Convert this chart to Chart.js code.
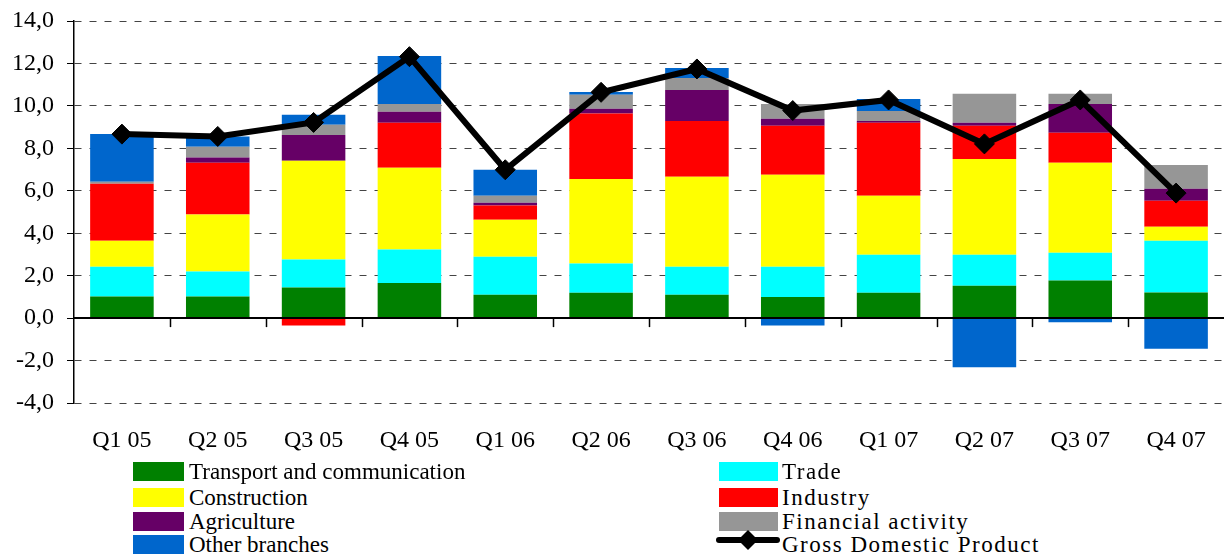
<!DOCTYPE html>
<html>
<head>
<meta charset="utf-8">
<script src="https://cdn.jsdelivr.net/npm/chart.js@4.4.1/dist/chart.umd.min.js"></script>
<style>
    html, body { margin: 0; padding: 0; background: #fff; overflow: hidden; }
    body { width: 1225px; height: 554px; position: relative; font-family: "Liberation Serif", Tinos, "Times New Roman", Times, "DejaVu Serif", serif; color: #000; }
    #wrap { position: absolute; left: 0; top: 0; width: 1235px; height: 460px; }
    .swatch { position: absolute; height: 19px; }
    .label { position: absolute; font-size: 23px; line-height: 19px; white-space: nowrap; }
    .label.right { letter-spacing: 1.5px; }
    #gdpKey { position: absolute; left: 715px; top: 529px; }
</style>
</head>
<body>
<div id="wrap"><canvas id="gdpChart" width="1235" height="460"></canvas></div>
<div id="legend"></div>
<svg id="gdpKey" width="66" height="22">
    <line x1="4" y1="11" x2="62" y2="11" stroke="#000" stroke-width="6" stroke-linecap="round"/>
    <polygon points="33,1 43,11 33,21 23,11" fill="#000"/>
</svg>
<script>
const quarters = ['Q1 05', 'Q2 05', 'Q3 05', 'Q4 05', 'Q1 06', 'Q2 06', 'Q3 06', 'Q4 06', 'Q1 07', 'Q2 07', 'Q3 07', 'Q4 07'];

// contributions to growth, percentage points
const transport    = [1.02, 1.02, 1.44, 1.66, 1.10, 1.19, 1.10, 1.00, 1.19, 1.52, 1.77, 1.21];
const trade        = [1.40, 1.18, 1.32, 1.57, 1.79, 1.38, 1.32, 1.42, 1.79, 1.46, 1.31, 2.43];
const construction = [1.22, 2.68, 4.65, 3.85, 1.74, 3.99, 4.24, 4.33, 2.78, 4.52, 4.24, 0.66];
const industry     = [2.69, 2.44, -0.35, 2.12, 0.68, 3.08, 2.63, 2.31, 3.44, 1.56, 1.41, 1.23];
const agriculture  = [0.00, 0.25, 1.22, 0.52, 0.12, 0.22, 1.46, 0.33, 0.09, 0.14, 1.36, 0.56];
const financial    = [0.09, 0.51, 0.48, 0.37, 0.33, 0.67, 0.57, 0.70, 0.47, 1.37, 0.48, 1.13];
const otherBranches = [2.26, 0.48, 0.47, 2.26, 1.23, 0.13, 0.47, -0.35, 0.57, -2.32, -0.20, -1.44];
const gdp          = [8.67, 8.56, 9.22, 12.32, 6.99, 10.64, 11.74, 9.78, 10.28, 8.21, 10.28, 5.89];

const FONT = '"Liberation Serif", Tinos, "Times New Roman", Times, "DejaVu Serif", serif';

const series = [
    { label: 'Transport and communication', data: transport, color: '#008000', col: 0, row: 0 },
    { label: 'Trade', data: trade, color: '#00FFFF', col: 1, row: 0 },
    { label: 'Construction', data: construction, color: '#FFFF00', col: 0, row: 1 },
    { label: 'Industry', data: industry, color: '#FF0000', col: 1, row: 1 },
    { label: 'Agriculture', data: agriculture, color: '#660066', col: 0, row: 2 },
    { label: 'Financial activity', data: financial, color: '#969696', col: 1, row: 2 },
    { label: 'Other branches', data: otherBranches, color: '#0066CC', col: 0, row: 3 }
];

// zero line and category tick marks sit on top of the bars
const zeroLinePlugin = {
    id: 'zeroLine',
    afterDatasetsDraw(chart) {
        const ctx = chart.ctx;
        const x = chart.scales.x;
        const y0 = chart.scales.y.getPixelForValue(0);
        const area = chart.chartArea;
        ctx.save();
        ctx.strokeStyle = '#000';
        ctx.lineWidth = 2;
        ctx.beginPath();
        ctx.moveTo(area.left, y0);
        ctx.lineTo(area.right, y0);
        ctx.stroke();
        ctx.lineWidth = 1.5;
        for (let i = 0; i < quarters.length - 1; i++) {
            const bx = Math.round((x.getPixelForValue(i) + x.getPixelForValue(i + 1)) / 2) + 0.5;
            ctx.beginPath();
            ctx.moveTo(bx, y0);
            ctx.lineTo(bx, y0 + 9);
            ctx.stroke();
        }
        ctx.restore();
    }
};

const datasets = series.map(s => ({
    type: 'bar',
    label: s.label,
    data: s.data,
    backgroundColor: s.color,
    borderWidth: 0,
    barPercentage: 0.663,
    categoryPercentage: 1,
    order: 1
}));

datasets.push({
    type: 'line',
    label: 'Gross Domestic Product',
    data: gdp,
    stack: 'gdp',
    borderColor: '#000',
    borderWidth: 6,
    backgroundColor: '#000',
    pointStyle: 'rectRot',
    pointRadius: 10,
    pointBorderWidth: 1,
    pointBackgroundColor: '#000',
    pointBorderColor: '#000',
    tension: 0,
    order: 0
});

new Chart(document.getElementById('gdpChart').getContext('2d'), {
    data: { labels: quarters, datasets: datasets },
    plugins: [zeroLinePlugin],
    options: {
        responsive: false,
        animation: false,
        layout: { padding: { top: 21, right: 3, bottom: 6, left: 0 } },
        plugins: {
            legend: { display: false },
            tooltip: { enabled: false }
        },
        scales: {
            x: {
                stacked: true,
                grid: { display: false },
                border: { display: false },
                afterFit: scale => { scale.height = 51; },
                ticks: {
                    color: '#000',
                    font: { family: FONT, size: 24 },
                    padding: 15,
                    maxRotation: 0,
                    autoSkip: false
                }
            },
            y: {
                stacked: true,
                min: -4,
                max: 14,
                afterFit: scale => {
                    scale.width = 74;
                    scale.paddingTop = 0;
                    scale.paddingBottom = 0;
                },
                ticks: {
                    stepSize: 2,
                    color: '#000',
                    font: { family: FONT, size: 24 },
                    padding: 13,
                    callback: v => v.toFixed(1).replace('.', ',')
                },
                grid: {
                    color: c => (c.tick && c.tick.value === 0) ? 'rgba(0,0,0,0)' : '#444',
                    tickColor: '#000',
                    tickLength: 7,
                    lineWidth: 1
                },
                border: { display: true, color: '#000', width: 1.5, dash: [7, 8] }
            }
        }
    }
});

// html legend, two columns of four rows
const legend = document.getElementById('legend');
const rowTops = [462, 488, 512, 535];
const cols = [{ swatch: 133, width: 51, text: 189 }, { swatch: 719, width: 59, text: 782 }];
function addLabel(text, col, row) {
    const lb = document.createElement('div');
    lb.className = col === 1 ? 'label right' : 'label';
    lb.style.left = cols[col].text + 'px';
    lb.style.top = rowTops[row] + 'px';
    lb.textContent = text;
    legend.appendChild(lb);
}
series.forEach(s => {
    const c = cols[s.col];
    const sw = document.createElement('div');
    sw.className = 'swatch';
    sw.style.left = c.swatch + 'px';
    sw.style.top = rowTops[s.row] + 'px';
    sw.style.width = c.width + 'px';
    sw.style.background = s.color;
    legend.appendChild(sw);
    addLabel(s.label, s.col, s.row);
});
addLabel('Gross Domestic Product', 1, 3);
</script>
</body>
</html>
